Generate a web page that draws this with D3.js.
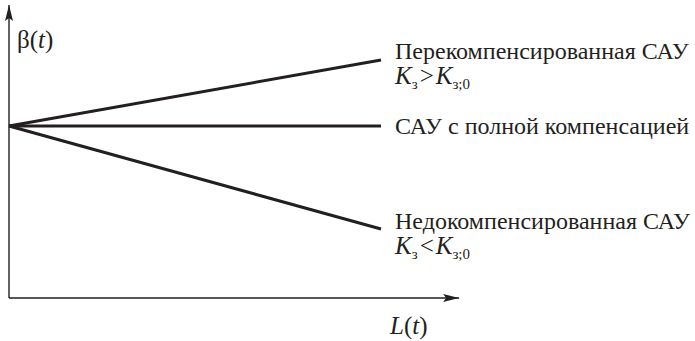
<!DOCTYPE html>
<html>
<head>
<meta charset="utf-8">
<script src="https://cdn.jsdelivr.net/npm/d3@7"></script>
</head>
<body style="margin:0">
<svg id="chart" width="695" height="341"></svg>
<script>
// Relative load L(t) along the horizontal axis, error β(t) on the vertical one
const loadRange = [0, 1];
const betaRange = [-1.72, 1.21];

// Each regime: name, β at L = 0 and at L = 1
const regimeNames = ["over", "full", "under"];
const betaStart = [0, 0, 0];
const betaEnd = [0.66, 0, -1.03];

// Labels placed at the right end of each line
const labelMain = ["Перекомпенсированная САУ", "САУ с полной компенсацией", "Недокомпенсированная САУ"];
const labelRelation = [">", null, "<"];

const ink = "#231f20";
const svg = d3.select("#chart");

const x = d3.scaleLinear().domain(loadRange).range([9, 381]);
const y = d3.scaleLinear().domain(betaRange).range([298, 5]);

function addText(px, py, size) {
  return svg.append("text")
    .attr("x", px).attr("y", py)
    .attr("font-size", size)
    .attr("font-family", "Liberation Serif")
    .attr("fill", ink);
}

// Axis arrowheads
svg.append("defs").append("marker")
  .attr("id", "arrow")
  .attr("viewBox", "0 0 16 8")
  .attr("refX", 16).attr("refY", 4)
  .attr("markerWidth", 16).attr("markerHeight", 8)
  .attr("markerUnits", "userSpaceOnUse")
  .attr("orient", "auto")
  .append("path")
  .attr("d", "M0,0 L16,4 L0,8 L3,4 Z")
  .attr("fill", ink);

// Axes
svg.append("line")
  .attr("x1", x(0)).attr("y1", y(betaRange[0]))
  .attr("x2", x(0)).attr("y2", y(betaRange[1]))
  .attr("stroke", ink).attr("stroke-width", 1.4)
  .attr("marker-end", "url(#arrow)");

svg.append("line")
  .attr("x1", x(0)).attr("y1", y(betaRange[0]))
  .attr("x2", x(1.21)).attr("y2", y(betaRange[0]))
  .attr("stroke", ink).attr("stroke-width", 1.4)
  .attr("marker-end", "url(#arrow)");

// Regime lines
const line = d3.line().x(d => x(d[0])).y(d => y(d[1]));
regimeNames.forEach((name, i) => {
  svg.append("path")
    .attr("class", "regime " + name)
    .attr("d", line([[loadRange[0], betaStart[i]], [loadRange[1], betaEnd[i]]]))
    .attr("fill", "none")
    .attr("stroke", ink)
    .attr("stroke-width", 3);
});

// Axis titles
const beta = addText(17, 48, 25);
beta.append("tspan").text("β(");
beta.append("tspan").attr("font-style", "italic").text("t");
beta.append("tspan").text(")");

const lt = addText(390, 334, 25);
lt.append("tspan").attr("font-style", "italic").text("L");
lt.append("tspan").text("(");
lt.append("tspan").attr("font-style", "italic").text("t");
lt.append("tspan").text(")");

// Line labels
const labelX = 395;
const labelDy = [-1, 8, 0];
regimeNames.forEach((name, i) => {
  const yb = y(betaEnd[i]) + labelDy[i];
  addText(labelX, yb, 24).text(labelMain[i]);
  if (labelRelation[i]) {
    const t = addText(labelX, yb + 25, 25);
    t.append("tspan").attr("font-style", "italic").text("K");
    t.append("tspan").attr("font-size", 15).attr("dy", 5).text("з");
    t.append("tspan").attr("dy", -5).attr("dx", 2).text(labelRelation[i]);
    t.append("tspan").attr("font-style", "italic").attr("dx", 2).text("K");
    t.append("tspan").attr("font-size", 15).attr("dy", 5).text("з;0");
  }
});
</script>
</body>
</html>
